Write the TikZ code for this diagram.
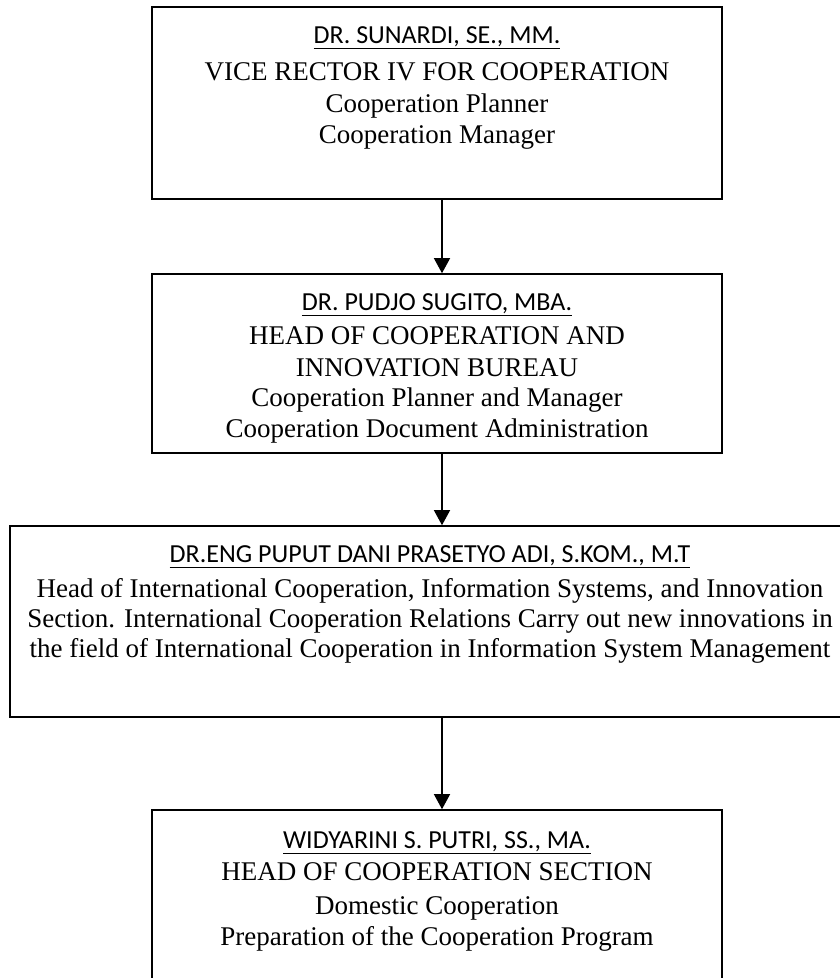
\documentclass[tikz,border=0pt]{standalone}
\usepackage{fontspec}
\setmainfont{Liberation Serif}
\newfontfamily\namefont{Carlito}
\usetikzlibrary{arrows.meta}

\begin{document}
\begin{tikzpicture}[
  x=1pt, y=-1pt,
  box/.style={draw, line width=1.6pt, rectangle, inner sep=0pt},
  namelabel/.style={anchor=base, inner sep=0pt, font=\namefont\fontsize{26}{30}\selectfont},
  rolelabel/.style={anchor=base, inner sep=0pt, font=\fontsize{27}{31}\selectfont},
  arrowline/.style={-{Triangle[width=16pt,length=15pt]}, line width=1.3pt},
]
  \clip (0,0) rectangle (840,978);

  % Boxes
  \node[box, minimum width=570pt, minimum height=192pt] (rector) at (437,103) {};
  \node[box, minimum width=570pt, minimum height=179pt] (bureau) at (437,363.5) {};
  \node[box, minimum width=840pt, minimum height=191pt] (section) at (430,621.5) {};
  \node[box, minimum width=570pt, minimum height=190pt] (head) at (437,905) {};

  % Vice rector
  \node[namelabel] (rectorname) at (437,43) {\underline{DR. SUNARDI, SE., MM.}};
  \node[rolelabel] (rectorrole) at (437,80) {VICE RECTOR IV FOR COOPERATION};
  \node[rolelabel] (rectortaska) at (437,112) {Cooperation Planner};
  \node[rolelabel] (rectortaskb) at (437,143) {Cooperation Manager};

  % Bureau
  \node[namelabel] (bureauname) at (437,310) {\underline{DR. PUDJO SUGITO, MBA.}};
  \node[rolelabel] (bureaurolea) at (437,344) {HEAD OF COOPERATION AND};
  \node[rolelabel] (bureaueroleb) at (437,376) {INNOVATION BUREAU};
  \node[rolelabel] (bureautaska) at (437,406) {Cooperation Planner and Manager};
  \node[rolelabel] (bureautaskb) at (437,437) {Cooperation Document Administration};

  % International section
  \node[namelabel] (sectionname) at (430,562) {\underline{DR.ENG PUPUT DANI PRASETYO ADI, S.KOM., M.T}};
  \node[rolelabel] (sectionlinea) at (430,597) {Head of International Cooperation, Information Systems, and Innovation};
  \node[rolelabel] (sectionlineb) at (430,627) {Section. International Cooperation Relations Carry out new innovations in};
  \node[rolelabel] (sectionlinec) at (430,657) {the field of International Cooperation in Information System Management};

  % Cooperation section
  \node[namelabel] (headname) at (437,848) {\underline{WIDYARINI S. PUTRI, SS., MA.}};
  \node[rolelabel] (headrole) at (437,880) {HEAD OF COOPERATION SECTION};
  \node[rolelabel] (headtaska) at (437,914) {Domestic Cooperation};
  \node[rolelabel] (headtaskb) at (437,945) {Preparation of the Cooperation Program};

  % Arrows
  \draw[arrowline] ([xshift=5pt]rector.south) -- ([xshift=5pt]bureau.north);
  \draw[arrowline] ([xshift=5pt]bureau.south) -- ([xshift=5pt]bureau.south |- section.north);
  \draw[arrowline] ([xshift=5pt]head.north |- section.south) -- ([xshift=5pt]head.north);

\end{tikzpicture}
\end{document}
